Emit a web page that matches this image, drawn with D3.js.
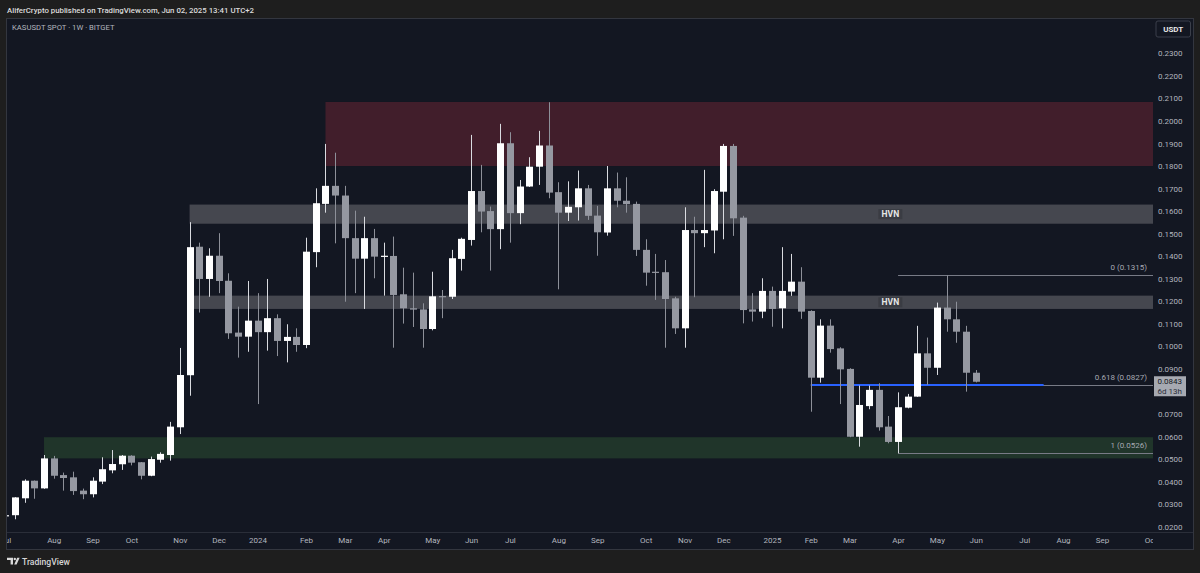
<!DOCTYPE html>
<html><head><meta charset="utf-8">
<script src="https://cdn.jsdelivr.net/npm/d3@7"></script>
<style>
html,body{margin:0;padding:0;background:#1e1e1e;overflow:hidden;}
svg{display:block;}
text{font-family:Roboto,"Liberation Sans",sans-serif;}
</style></head><body>
<svg id="c" width="1200" height="573"></svg>
<script>
// ---------- DATA ----------
const firstWeek = "2023-07-03"; // weekly candles (Mondays)
const opens  = [0.0248,0.0251,0.0326,0.0404,0.0370,0.0503,0.0429,0.0419,0.0360,0.0344,
  0.0400,0.0450,0.0477,0.0515,0.0486,0.0426,0.0497,0.0518,0.0641,0.0872,
  0.1442,0.1299,0.1402,0.1291,0.1061,0.1043,0.1114,0.1063,0.1125,0.1024,
  0.1042,0.1006,0.1418,0.1632,0.1712,0.1669,0.1480,0.1389,0.1480,0.1398,
  0.1401,0.1231,0.1169,0.1164,0.1077,0.1223,0.1220,0.1388,0.1472,0.1689,
  0.1600,0.1520,0.1901,0.1591,0.1709,0.1797,0.1891,0.1684,0.1593,0.1617,
  0.1701,0.1580,0.1505,0.1701,0.1646,0.1632,0.1428,0.1331,0.1329,0.1213,
  0.1080,0.1516,0.1502,0.1514,0.1686,0.1889,0.1571,0.1164,0.1154,0.1246,
  0.1169,0.1243,0.1287,0.1157,0.0861,0.1092,0.0991,0.0900,0.0599,0.0735,
  0.0807,0.0644,0.0576,0.0728,0.0777,0.0969,0.0905,0.1172,0.1120,0.1065,
  0.0883];
const highs  = [0.0253,0.0331,0.0410,0.0405,0.0518,0.0514,0.0440,0.0444,0.0369,0.0419,
  0.0508,0.0540,0.0518,0.0517,0.0487,0.0511,0.0530,0.0665,0.0993,0.1551,
  0.1460,0.1435,0.1502,0.1324,0.1176,0.1290,0.1236,0.1299,0.1142,0.1098,
  0.1080,0.1482,0.1701,0.1898,0.1859,0.1712,0.1602,0.1575,0.1521,0.1460,
  0.1487,0.1349,0.1327,0.1191,0.1331,0.1250,0.1428,0.1482,0.1938,0.1805,
  0.1620,0.1987,0.1950,0.1738,0.1839,0.1956,0.2083,0.1728,0.1732,0.1780,
  0.1716,0.1623,0.1800,0.1771,0.1750,0.1642,0.1475,0.1410,0.1383,0.1220,
  0.1617,0.1575,0.1783,0.1697,0.1898,0.1898,0.1579,0.1236,0.1302,0.1265,
  0.1440,0.1410,0.1351,0.1160,0.1120,0.1120,0.0996,0.0903,0.0826,0.0826,
  0.0836,0.0691,0.0796,0.0789,0.1091,0.1039,0.1194,0.1315,0.1198,0.1091,
  0.0895];
const lows   = [0.0246,0.0233,0.0306,0.0324,0.0368,0.0413,0.0360,0.0341,0.0322,0.0330,
  0.0389,0.0437,0.0452,0.0472,0.0410,0.0424,0.0484,0.0493,0.0611,0.0781,
  0.1150,0.1220,0.1236,0.1033,0.0950,0.0976,0.0744,0.0981,0.0957,0.0929,
  0.0976,0.0992,0.1351,0.1593,0.1457,0.1198,0.1236,0.1166,0.1302,0.1225,
  0.0994,0.1101,0.1086,0.0994,0.1071,0.1125,0.1210,0.1336,0.1447,0.1506,
  0.1336,0.1431,0.1460,0.1542,0.1707,0.1716,0.1657,0.1253,0.1556,0.1558,
  0.1561,0.1402,0.1491,0.1617,0.1593,0.1401,0.1269,0.1206,0.0994,0.1055,
  0.0994,0.1218,0.1440,0.1413,0.1475,0.1490,0.1102,0.1110,0.1125,0.1087,
  0.1080,0.1224,0.1122,0.0710,0.0839,0.0972,0.0744,0.0597,0.0555,0.0721,
  0.0626,0.0570,0.0526,0.0725,0.0776,0.0829,0.0873,0.1065,0.1016,0.0799,
  0.0840];
const closes = [0.0251,0.0330,0.0404,0.0370,0.0503,0.0426,0.0416,0.0358,0.0344,0.0404,
  0.0455,0.0478,0.0515,0.0484,0.0426,0.0500,0.0523,0.0644,0.0873,0.1440,
  0.1299,0.1402,0.1290,0.1058,0.1043,0.1114,0.1063,0.1125,0.1024,0.1042,
  0.1006,0.1420,0.1635,0.1712,0.1669,0.1480,0.1389,0.1480,0.1398,0.1402,
  0.1228,0.1169,0.1163,0.1077,0.1222,0.1220,0.1391,0.1477,0.1689,0.1598,
  0.1520,0.1901,0.1591,0.1709,0.1797,0.1891,0.1682,0.1593,0.1619,0.1701,
  0.1579,0.1506,0.1701,0.1646,0.1631,0.1428,0.1327,0.1326,0.1210,0.1080,
  0.1516,0.1502,0.1516,0.1689,0.1889,0.1568,0.1161,0.1154,0.1246,0.1166,
  0.1246,0.1287,0.1154,0.0861,0.1092,0.0988,0.0898,0.0599,0.0740,0.0807,
  0.0641,0.0576,0.0730,0.0777,0.0969,0.0905,0.1172,0.1120,0.1065,0.0883,
  0.0843];

const monthTicks = [
  ["2023-07-03","Jul"],["2023-08-07","Aug"],["2023-09-04","Sep"],["2023-10-02","Oct"],
  ["2023-11-06","Nov"],["2023-12-04","Dec"],["2024-01-01","2024"],["2024-02-05","Feb"],
  ["2024-03-04","Mar"],["2024-04-01","Apr"],["2024-05-06","May"],["2024-06-03","Jun"],
  ["2024-07-01","Jul"],["2024-08-05","Aug"],["2024-09-02","Sep"],["2024-10-07","Oct"],
  ["2024-11-04","Nov"],["2024-12-02","Dec"],["2025-01-06","2025"],["2025-02-03","Feb"],
  ["2025-03-03","Mar"],["2025-04-07","Apr"],["2025-05-05","May"],["2025-06-02","Jun"],
  ["2025-07-07","Jul"],["2025-08-04","Aug"],["2025-09-01","Sep"],["2025-10-06","Oct"]];
const priceTicks = [0.02,0.03,0.04,0.05,0.06,0.07,0.08,0.09,0.10,0.11,0.12,
  0.13,0.14,0.15,0.16,0.17,0.18,0.19,0.20,0.21,0.22,0.23];

// zones: [start week, low, high]
const supplyZone = ["2024-02-19", 0.1800, 0.2084];
const hvnZones   = [["2023-11-13", 0.1544, 0.1629], ["2023-11-13", 0.1166, 0.1225]];
const demandZone = ["2023-07-31", 0.0503, 0.0597];
const hvnLabel = "HVN";
const hvnLabelWeek = "2025-03-31";
// fib retracement
const fibStart = "2025-04-07";
const fibLevels = ["0", "0.618", "1"];
const fibPrices = [0.1315, 0.0827, 0.0526];
const keyLine = ["2025-02-03", "2025-07-21", 0.0827];
const lastPrice = 0.0843;
const countdown = "6d 13h";
const header = "AliferCrypto published on TradingView.com, Jun 02, 2025 13:41 UTC+2";
const symbolTitle = "KASUSDT SPOT · 1W · BITGET";

// ---------- DRAW ----------
const svg = d3.select("#c");
const P = {l:7, t:19, r:1193, b:549, plotR:1153, axisY:532.5};
const parse = s => new Date(s + "T00:00:00Z");
const dates = opens.map((_, i) => d3.utcDay.offset(parse(firstWeek), 7 * i));
const candles = dates.map((d, i) => ({d, o:opens[i], h:highs[i], l:lows[i], c:closes[i]}));

const x = d3.scaleUtc().domain([parse("2023-07-03"), parse("2025-10-06")]).range([5.2, 1150.4]);
const y = d3.scaleLinear().domain([0.02, 0.23]).range([526.7, 53.3]);

// frame
svg.append("rect").attr("width",1200).attr("height",573).attr("fill","#1e1e1e");
svg.append("text").attr("x",7).attr("y",12.5).attr("fill","#dcdcdc").attr("font-size",8)
  .attr("font-weight",500).attr("textLength",247).attr("lengthAdjust","spacingAndGlyphs").text(header);
svg.append("rect").attr("x",P.l-0.5).attr("y",P.t-0.5).attr("width",P.r-P.l+1).attr("height",P.b-P.t+1)
  .attr("fill","#131722").attr("stroke","#33363f");

const defs = svg.append("defs");
defs.append("clipPath").attr("id","plot").append("rect")
  .attr("x",P.l).attr("y",P.t).attr("width",P.plotR-P.l).attr("height",P.axisY-P.t);

const g = svg.append("g").attr("clip-path","url(#plot)");

// zones
function zone(z, fill){
  g.append("rect").attr("x",x(parse(z[0]))).attr("y",y(z[2]))
    .attr("width",P.plotR - x(parse(z[0]))).attr("height",y(z[1]) - y(z[2])).attr("fill",fill);
}
zone(supplyZone, "#411e2b");
hvnZones.forEach(z => zone(z, "#45474f"));
zone(demandZone, "#20352a");

// fib lines
fibPrices.forEach(p => {
  g.append("line").attr("x1",x(parse(fibStart))).attr("x2",P.plotR)
    .attr("y1",Math.round(y(p))+0.5).attr("y2",Math.round(y(p))+0.5)
    .attr("stroke","#787b86").attr("stroke-width",1);
});
g.append("line").attr("x1",x(parse(keyLine[0]))).attr("x2",x(parse(keyLine[1])))
  .attr("y1",Math.round(y(keyLine[2]))).attr("y2",Math.round(y(keyLine[2])))
  .attr("stroke","#2962ff").attr("stroke-width",2);

// candles
const up = d => d.c >= d.o;
const cg = g.append("g");
cg.selectAll("line.w").data(candles).join("line").attr("class","w")
  .attr("x1",d=>Math.round(x(d.d))+0.5).attr("x2",d=>Math.round(x(d.d))+0.5)
  .attr("y1",d=>y(d.h)).attr("y2",d=>y(d.l))
  .attr("stroke",d=>up(d)?"#d9dbe0":"#8d9099").attr("stroke-width",1);
cg.selectAll("rect.b").data(candles).join("rect").attr("class","b")
  .attr("x",d=>Math.round(x(d.d))-3).attr("width",7)
  .attr("y",d=>y(Math.max(d.o,d.c)))
  .attr("height",d=>Math.max(1.2, Math.abs(y(d.o)-y(d.c))))
  .attr("fill",d=>up(d)?"#ffffff":"#9598a1");

// HVN labels
hvnZones.forEach(z => {
  const cx = x(parse(hvnLabelWeek)) + 2, cy = (y(z[1]) + y(z[2])) / 2;
  g.append("rect").attr("x",cx-12).attr("y",cy-5).attr("width",24).attr("height",10).attr("fill","#3a3c43");
  g.append("text").attr("x",cx).attr("y",cy+3.2).attr("text-anchor","middle")
    .attr("font-size",8.5).attr("font-weight",700).attr("fill","#e6e6e6").text(hvnLabel);
});

// fib labels
fibPrices.forEach((p, i) => {
  g.append("text").attr("x",P.plotR-6).attr("y",y(p)-5).attr("text-anchor","end")
    .attr("font-size",8).attr("fill","#a6a9b2").text(`${fibLevels[i]} (${p.toFixed(4)})`);
});

// symbol title
svg.append("text").attr("x",12).attr("y",29.5).attr("font-size",8).attr("fill","#b2b5be")
  .attr("textLength",102.6).attr("lengthAdjust","spacingAndGlyphs").text(symbolTitle);

// time axis
svg.append("line").attr("x1",P.l).attr("x2",P.r).attr("y1",P.axisY).attr("y2",P.axisY).attr("stroke","#2a2e39");
defs.append("clipPath").attr("id","tclip").append("rect")
  .attr("x",P.l).attr("y",P.axisY).attr("width",P.plotR-P.l).attr("height",P.b-P.axisY);
const xa = svg.append("g").attr("clip-path","url(#tclip)").append("g")
  .attr("transform",`translate(0,${P.axisY})`)
  .call(d3.axisBottom(x).tickValues(monthTicks.map(t=>parse(t[0])))
    .tickFormat((d,i)=>monthTicks[i][1]).tickSize(0).tickPadding(5));
xa.select(".domain").remove();
xa.selectAll("text").attr("fill","#b2b5be").attr("font-size",8).attr("font-family","Roboto, sans-serif");

// price axis
const ya = svg.append("g").attr("transform",`translate(${P.plotR},0)`)
  .call(d3.axisRight(y).tickValues(priceTicks).tickFormat(d3.format(".4f")).tickSize(0).tickPadding(5));
ya.select(".domain").remove();
ya.selectAll("text").attr("fill","#b2b5be").attr("font-size",8).attr("font-family","Roboto, sans-serif");

// USDT box
svg.append("rect").attr("x",1156).attr("y",21).attr("width",34.5).attr("height",16).attr("rx",2)
  .attr("fill","#131722").attr("stroke","#3b3f4a");
svg.append("text").attr("x",1173.2).attr("y",32).attr("text-anchor","middle").attr("font-size",8)
  .attr("font-weight",700).attr("fill","#e6e6e6").text("USDT");

// last price label
const ly = y(lastPrice);
svg.append("rect").attr("x",1154).attr("y",ly-5.5).attr("width",32).attr("height",20).attr("fill","#a6a9b1");
svg.append("text").attr("x",1157.5).attr("y",ly+2.5).attr("font-size",8).attr("fill","#131722").text(lastPrice.toFixed(4));
svg.append("text").attr("x",1157.5).attr("y",ly+12.3).attr("font-size",8).attr("fill","#2a2e39").text(countdown);

// footer logo
const lg = svg.append("g").attr("fill","#d9d9d9");
lg.append("path").attr("d","M7 557.8 H13 V564.6 H10.6 V560 H7 Z");
lg.append("circle").attr("cx",14.8).attr("cy",559).attr("r",1.2);
lg.append("path").attr("d","M17.2 557.8 H19.6 L16.6 564.6 H14.2 Z");
svg.append("text").attr("x",22).attr("y",564.5).attr("font-size",8.6).attr("font-weight",500)
  .attr("fill","#d6d6d6").text("TradingView");
</script>
</body></html>
